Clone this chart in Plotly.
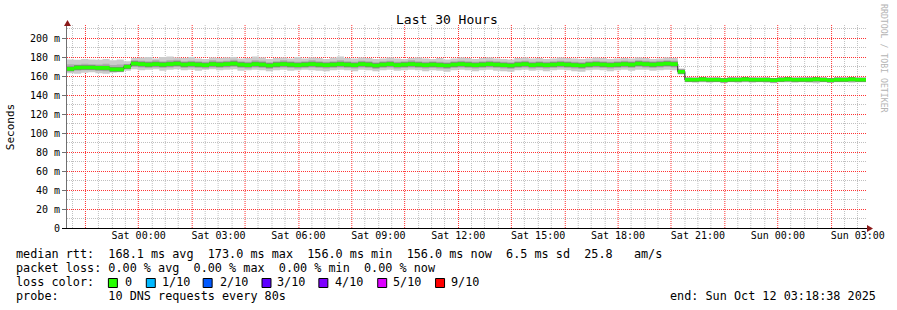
import math
import datetime as dt
import plotly.graph_objects as go

# ---------------- data (ms) ----------------
start_time = "2025-10-10 21:18:38"
end_time = "2025-10-12 03:18:38"
step_minutes = 16

median = [
    167.5, 168.8, 169.0, 169.0, 168.5, 168.5, 167.0, 167.0, 169.8,
    173.0, 172.5, 172.0, 172.5, 172.0, 172.5, 173.0, 172.0, 172.5, 172.0, 171.5, 172.5,
    172.0, 172.5, 173.0, 172.0, 171.5, 172.5, 172.0, 171.0, 172.0, 172.5, 172.0, 171.5,
    172.0, 172.5, 172.0, 171.5, 172.0, 172.5, 172.0, 171.5, 172.5, 172.0, 171.0, 172.0,
    172.5, 171.5, 172.0, 172.5, 172.0, 171.5, 172.0, 171.5, 171.0, 172.0, 172.5, 172.0,
    171.5, 172.0, 172.5, 172.0, 171.5, 171.0, 172.0, 172.5, 171.5, 172.0, 171.5, 172.0,
    172.5, 172.0, 171.5, 171.0, 172.0, 172.5, 172.0, 171.5, 172.0, 172.5, 172.0, 173.0,
    172.5, 172.0, 172.5, 173.0, 172.5,
    164.5,
    156.0, 156.0, 156.5, 156.0, 156.0, 155.5, 156.0, 156.0, 156.5, 156.0, 156.0, 156.0, 155.5,
    156.0, 156.5, 156.0, 156.0, 156.0, 156.5, 156.0, 155.5, 156.0, 156.0, 156.5, 156.0, 156.0,
]

outer_hi = [
    177.5, 177.0, 178.0, 177.5, 177.0, 178.0, 176.5, 177.5, 175.5,
    179.0, 179.5, 180.0, 178.5, 180.0, 180.5, 179.5, 179.0, 180.0, 178.5, 178.0, 179.5,
    179.0, 179.5, 180.0, 178.5, 179.0, 180.5, 179.5, 178.0, 179.0, 179.5, 178.5, 180.0,
    178.5, 179.5, 179.0, 178.0, 179.5, 180.5, 179.0, 178.5, 179.5, 179.0, 178.0, 178.5,
    179.5, 178.5, 178.0, 179.0, 179.5, 178.5, 178.0, 179.0, 177.5, 178.5, 179.5, 179.0,
    178.0, 179.0, 179.5, 178.5, 178.0, 177.5, 179.0, 179.5, 178.5, 179.0, 178.0, 178.5,
    179.5, 179.0, 178.5, 178.0, 178.5, 179.5, 179.0, 178.0, 178.5, 179.0, 178.5, 179.5,
    179.0, 178.0, 178.5, 179.5, 179.0,
    168.0,
    158.5, 158.0, 159.0, 158.0, 158.5, 158.0, 159.0, 158.5, 158.0, 158.5, 158.0, 158.5, 158.0,
    159.0, 158.5, 158.0, 158.5, 159.0, 158.0, 158.5, 158.0, 159.0, 158.5, 158.0, 158.0, 158.0,
]

outer_lo = [
    163.0, 162.5, 163.5, 164.0, 163.0, 162.5, 163.5, 164.0, 165.5,
    167.0, 166.0, 166.5, 167.0, 165.5, 166.5, 167.0, 166.0, 166.5, 165.5, 166.5, 167.0,
    166.0, 166.5, 167.0, 165.5, 166.0, 166.5, 166.0, 165.0, 166.0, 166.5, 165.5, 166.0,
    166.5, 166.0, 165.5, 165.0, 166.0, 166.5, 166.0, 165.0, 166.5, 166.0, 165.0, 166.0,
    166.5, 165.5, 166.0, 166.5, 166.0, 165.0, 166.0, 165.5, 164.5, 166.0, 166.5, 166.0,
    165.0, 166.0, 166.5, 165.5, 165.0, 164.5, 166.0, 166.5, 165.5, 166.0, 165.0, 166.0,
    166.5, 166.0, 165.0, 164.5, 166.0, 166.5, 166.0, 165.0, 166.0, 166.5, 165.5, 166.5,
    166.5, 165.5, 166.0, 166.5, 166.0,
    161.5,
    153.5, 153.0, 153.5, 153.0, 153.5, 152.5, 153.5, 153.0, 153.5, 153.0, 153.5, 153.0, 152.5,
    153.5, 153.5, 153.0, 153.5, 153.0, 152.5, 153.5, 153.0, 153.5, 153.5, 153.0, 153.5, 153.5,
]

mid_hi = [
    172.5, 172.0, 173.0, 172.5, 172.0, 173.0, 171.5, 172.0, 172.5,
    176.5, 176.0, 175.5, 176.5, 175.5, 176.5, 177.0, 175.5, 176.0, 175.5, 175.0, 176.5,
    175.5, 176.0, 177.0, 175.5, 175.0, 176.5, 176.0, 174.5, 175.5, 176.5, 175.5, 175.0,
    175.5, 176.5, 175.5, 175.0, 175.5, 176.5, 175.5, 175.0, 176.0, 175.5, 174.5, 175.5,
    176.0, 175.0, 175.5, 176.5, 175.5, 175.0, 175.5, 175.0, 174.5, 175.5, 176.0, 175.5,
    175.0, 175.5, 176.0, 175.5, 175.0, 174.5, 175.5, 176.0, 175.0, 175.5, 175.0, 175.5,
    176.0, 175.5, 175.0, 174.5, 175.5, 176.0, 175.5, 175.0, 175.5, 176.0, 175.5, 176.5,
    176.0, 175.5, 176.0, 176.5, 176.0,
    166.5,
    157.5, 157.5, 158.0, 157.5, 157.5, 157.0, 157.5, 157.5, 158.0, 157.5, 157.5, 157.5, 157.0,
    157.5, 158.0, 157.5, 157.5, 157.5, 158.0, 157.5, 157.0, 157.5, 157.5, 158.0, 157.5, 157.5,
]

mid_lo = [
    165.0, 165.5, 166.0, 166.0, 165.5, 165.0, 164.5, 165.0, 167.0,
    169.5, 169.0, 168.5, 169.0, 168.5, 169.0, 169.5, 168.5, 169.0, 168.5, 168.0, 169.0,
    168.5, 169.0, 169.5, 168.5, 168.0, 169.0, 168.5, 167.5, 168.5, 169.0, 168.5, 168.0,
    168.5, 169.0, 168.5, 168.0, 168.5, 169.0, 168.5, 168.0, 169.0, 168.5, 167.5, 168.5,
    169.0, 168.0, 168.5, 169.0, 168.5, 168.0, 168.5, 168.0, 167.5, 168.5, 169.0, 168.5,
    168.0, 168.5, 169.0, 168.5, 168.0, 167.5, 168.5, 169.0, 168.0, 168.5, 168.0, 168.5,
    169.0, 168.5, 168.0, 167.5, 168.5, 169.0, 168.5, 168.0, 168.5, 169.0, 168.5, 169.5,
    169.0, 168.5, 169.0, 169.5, 169.0,
    163.0,
    154.5, 154.5, 155.0, 154.5, 154.5, 154.0, 154.5, 154.5, 155.0, 154.5, 154.5, 154.5, 154.0,
    154.5, 155.0, 154.5, 154.5, 154.5, 155.0, 154.5, 154.0, 154.5, 154.5, 155.0, 154.5, 154.5,
]

y_tick_values = [0, 20, 40, 60, 80, 100, 120, 140, 160, 180, 200]
y_tick_labels = ["0", "20 m", "40 m", "60 m", "80 m", "100 m", "120 m",
                 "140 m", "160 m", "180 m", "200 m"]
y_minor_values = [10, 30, 50, 70, 90, 110, 130, 150, 170, 190, 210]

loss_labels = ["0", "1/10", "2/10", "3/10", "4/10", "5/10", "9/10"]
loss_colors = ["#26ff00", "#00b8ff", "#0059ff", "#5e00ff", "#7e00ff", "#dd00ff", "#ff0000"]

legend_median = "median rtt:  168.1 ms avg  173.0 ms max  156.0 ms min  156.0 ms now  6.5 ms sd  25.8   am/s"
legend_loss = "packet loss: 0.00 % avg  0.00 % max  0.00 % min  0.00 % now"
legend_probe = "probe:       10 DNS requests every 80s"
legend_end = "end: Sun Oct 12 03:18:38 2025"

# ---------------- geometry ----------------
W, H = 897, 310
L, R, T, B = 67, 868, 25, 228
PX_PER_MS = 0.95
Y_MAX = (B - T) / PX_PER_MS
MONO = "DejaVu Sans Mono"


def px(x):
    return (x - L) / (R - L)


def py(y):
    return (B - y) / (B - T)


def snap(p):
    return math.floor(p) + 0.5


t0 = dt.datetime.fromisoformat(start_time)
t_end = dt.datetime.fromisoformat(end_time)
SPAN = (t_end - t0).total_seconds()
times = [t0 + dt.timedelta(minutes=step_minutes * i) for i in range(len(median))] + [t_end]


def time_px(t):
    return L + (t - t0).total_seconds() / SPAN * (R - L)


def value_px(v):
    return B - v * PX_PER_MS


# grid positions: red every 2 h, gray every 30 min elsewhere
g = dt.datetime(2025, 10, 10, 21, 30)
major_x, minor_x = [], []
while g <= t_end:
    if g.minute == 0 and g.hour % 2 == 0:
        major_x.append(g)
    else:
        minor_x.append(g)
    g += dt.timedelta(minutes=30)


def ext(a):
    return list(a) + [a[-1]]


fig = go.Figure()


def band(lo, hi, color):
    fig.add_trace(go.Scatter(x=times, y=ext(lo), mode="lines", line=dict(width=0, shape="hv"),
                             hoverinfo="skip", showlegend=False))
    fig.add_trace(go.Scatter(x=times, y=ext(hi), mode="lines", line=dict(width=0, shape="hv"),
                             fill="tonexty", fillcolor=color, hoverinfo="skip",
                             showlegend=False))


band(outer_lo, outer_hi, "#cbcbcb")
band(mid_lo, mid_hi, "#adadad")
band([m - 2.4 for m in median], [m + 2.4 for m in median], "#7e7e7e")
fig.add_trace(go.Scatter(x=times, y=ext(median), mode="lines",
                         line=dict(width=1, color="#202020", shape="hv"),
                         hoverinfo="skip", showlegend=False))
band([m - 1.9 for m in median], [m + 1.9 for m in median], loss_colors[0])

red_grid = "#ff3333"
gray_grid = "#c0c0c0"
DOT = "1px,1px"

fig.update_layout(
    width=W, height=H,
    margin=dict(l=L, r=W - R, t=T, b=H - B, pad=0),
    paper_bgcolor="white", plot_bgcolor="white",
    showlegend=False,
    font=dict(family=MONO, color="black", size=10),
    xaxis=dict(
        type="date", range=[t0, t_end], tickmode="linear",
        tick0="2025-10-11 00:00:00", dtick=3 * 3600 * 1000,
        tickformat="%a %H:%M", showgrid=False, zeroline=False, showline=False,
        ticks="", tickfont=dict(family=MONO, size=10, color="black"),
    ),
    yaxis=dict(
        range=[0, Y_MAX], tickmode="array", tickvals=y_tick_values, ticktext=y_tick_labels,
        showgrid=False, zeroline=False, showline=True, linecolor="#707070", linewidth=1,
        ticks="outside", ticklen=4, tickcolor="#707070",
        tickfont=dict(family=MONO, size=10, color="black"),
    ),
)


def vline(xpix, color):
    xp = px(snap(xpix))
    return dict(type="line", xref="paper", yref="paper", x0=xp, x1=xp, y0=0, y1=1,
                line=dict(color=color, width=1, dash=DOT), layer="below")


def hline(ypix, color):
    yp = py(snap(ypix))
    return dict(type="line", xref="paper", yref="paper", x0=0, x1=1, y0=yp, y1=yp,
                line=dict(color=color, width=1, dash=DOT), layer="below")


shapes = []
shapes += [vline(time_px(gx), gray_grid) for gx in minor_x]
shapes += [hline(value_px(gy), gray_grid) for gy in y_minor_values]
shapes += [vline(time_px(gx), red_grid) for gx in major_x]
shapes += [hline(value_px(gy), red_grid) for gy in y_tick_values[1:]]

shapes += [
    dict(type="line", xref="paper", yref="paper", x0=px(62), x1=px(870),
         y0=py(B + 0.5), y1=py(B + 0.5), line=dict(color="black", width=1), layer="above"),
    dict(type="path", xref="paper", yref="paper",
         path=f"M {px(64)},{py(26)} L {px(71)},{py(26)} L {px(67.5)},{py(20)} Z",
         fillcolor="#8b1a1a", line=dict(width=0), layer="above"),
    dict(type="path", xref="paper", yref="paper",
         path=f"M {px(869)},{py(225)} L {px(869)},{py(232)} L {px(875)},{py(228.5)} Z",
         fillcolor="#8b1a1a", line=dict(width=0), layer="above"),
]

box_x = [108, 146, 203, 262, 319, 378, 436]
text_x = [123, 160, 218, 276, 334, 392, 450]
for bx, c in zip(box_x, loss_colors):
    shapes.append(dict(type="rect", xref="paper", yref="paper",
                       x0=px(bx + 0.5), x1=px(bx + 9.5), y0=py(278.5), y1=py(287.5),
                       fillcolor=c, line=dict(color="black", width=1)))
fig.update_layout(shapes=shapes)

LEG = 11.8


def txt(x, y, s, size=LEG, anchor="left", color="black", angle=0):
    fig.add_annotation(x=px(x), y=py(y), xref="paper", yref="paper", text=s,
                       showarrow=False, xanchor=anchor, yanchor="middle",
                       textangle=angle, font=dict(family=MONO, size=size, color=color))


txt(448, 19, "Last 30 Hours", size=13, anchor="center")
txt(10, 127, "Seconds", size=11, anchor="center", angle=-90)
txt(886, 59, "RRDTOOL / TOBI OETIKER", size=8.2, anchor="center", color="#b4b4b4", angle=90)

txt(14, 254, legend_median.replace(" ", "&nbsp;"))
txt(14, 268, legend_loss.replace(" ", "&nbsp;"))
txt(14, 282, "loss&nbsp;color:")
for tx, lab in zip(text_x, loss_labels):
    txt(tx, 282, lab)
txt(14, 296, legend_probe.replace(" ", "&nbsp;"))
txt(880, 296, legend_end.replace(" ", "&nbsp;"), anchor="right")

fig.write_html("out.html", config={"displayModeBar": False})
